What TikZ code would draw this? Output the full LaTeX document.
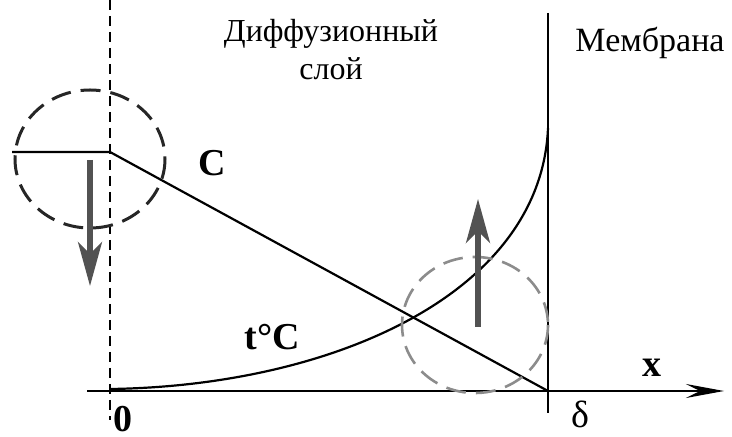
\documentclass[tikz,border=0pt]{standalone}
\usepackage{fontspec}
\setmainfont{Liberation Serif}
\usetikzlibrary{arrows.meta,positioning}

\begin{document}
\begin{tikzpicture}[x=0.5pt, y=-0.5pt,
    lbl/.style={inner sep=0pt, font=\fontsize{16}{19}\selectfont, align=center},
    var/.style={inner sep=0pt, font=\fontsize{19}{22}\selectfont\bfseries},
    flow/.style={line width=2.6pt, draw=black!68, -{Stealth[length=22pt, width=12pt, inset=6pt]}},
    zone/.style={line width=1.5pt, dash pattern=on 10pt off 5pt},
    prof/.style={line width=1.1pt}
]
    \useasboundingbox (0,0) rectangle (732,437);

    % axes and boundaries
    \coordinate (o) at (110,391);
    \coordinate (xs) at (87,391);
    \coordinate (xe) at (724,391);
    \coordinate (d) at (548,391);
    \coordinate (mtop) at (548,13);
    \coordinate (mbot) at (548,413);
    \coordinate (ztop) at (110,0);
    \coordinate (zbot) at (110,420);
    \coordinate (c0) at (110,152);
    \coordinate (cin) at (12,152);
    \coordinate (t0) at (110,389);
    \coordinate (t1) at (548,128);

    \draw[line width=1pt, dash pattern=on 5pt off 3pt] (ztop) -- (zbot);
    \draw[line width=1.1pt, -{Stealth[length=19pt, width=7pt, inset=7pt]}] (xs) -- (xe);
    \draw[line width=1.4pt] (mtop) -- (mbot);

    % concentration and temperature profiles
    \draw[prof] (cin) -- (c0) -- (d);
    \draw[prof] (t0) .. controls (330,386) and (541,295) .. (t1);

    % circles and flows
    \draw[zone, black!85] (90,159) ellipse (75 and 69);
    \draw[zone, black!45, line width=1.3pt] (475,325) ellipse (73 and 68);
    \coordinate (a1s) at (90,160);
    \coordinate (a1e) at (90,286);
    \coordinate (a2s) at (478,327);
    \coordinate (a2e) at (478,199);
    \draw[flow] (a1s) -- (a1e);
    \draw[flow] (a2s) -- (a2e);

    % labels
    \node[lbl] (layer) at (331,50) {Диффузионный\\слой};
    \node[lbl, font=\fontsize{17}{20}\selectfont] (membr) at (650,43) {Мембрана};
    \node[var] (clbl) at (212,163) {C};
    \node[var] (tlbl) at (272,337) {t°C};
    \node[var] (xlbl) at (652,368) {x};
    \node[lbl, font=\fontsize{19}{22}\selectfont] (dlbl) at (580,414) {δ};
    \node[var] (olbl) at (123,419) {0};
\end{tikzpicture}
\end{document}
